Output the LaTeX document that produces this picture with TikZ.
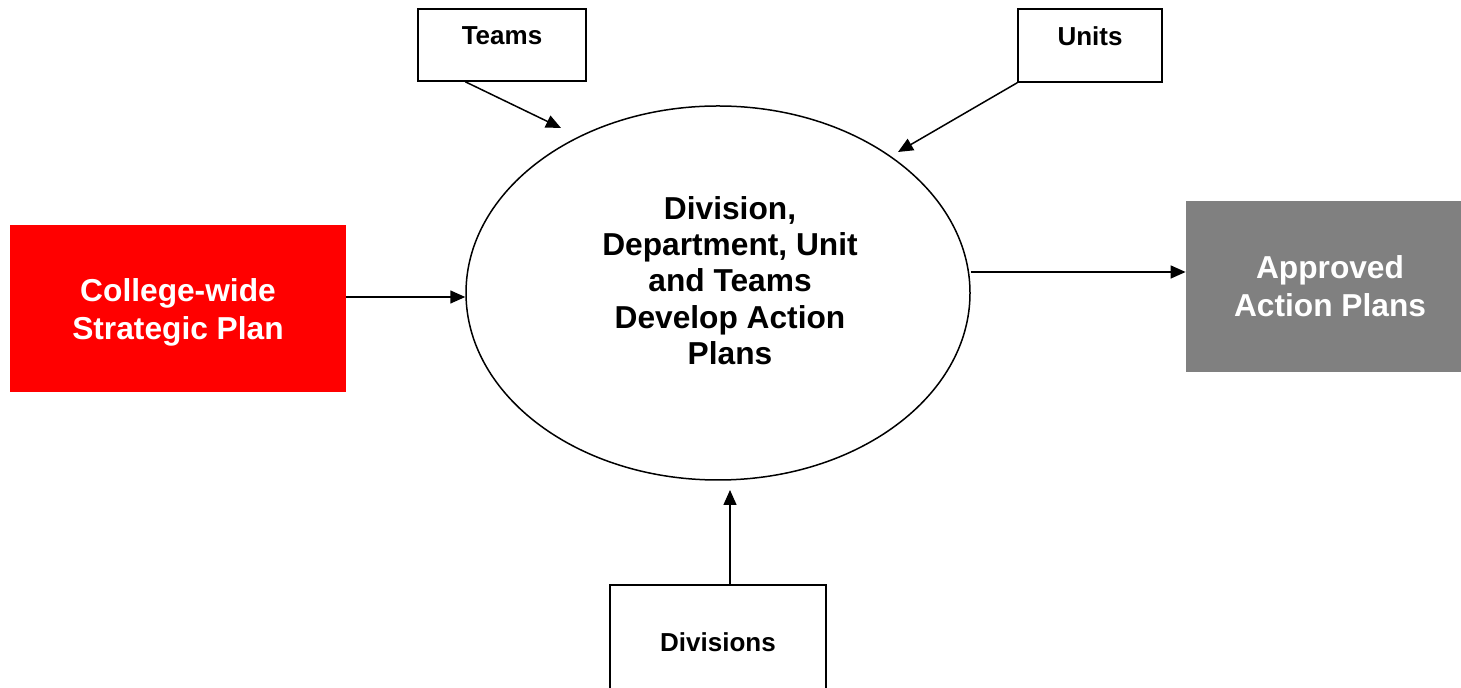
\documentclass[tikz,border=0pt]{standalone}
\usepackage{fontspec}
\setmainfont{Liberation Sans}
\usetikzlibrary{shapes.geometric,arrows.meta}
\begin{document}
\begin{tikzpicture}[x=0.5pt,y=-0.5pt,
  box/.style={draw, line width=0.75pt, font=\fontsize{13}{15}\selectfont\bfseries, text height=9pt, text depth=9pt, inner sep=0pt},
  arr/.style={line width=0.75pt, -{Triangle[length=7.5pt,width=6.5pt]}},
  bigtext/.style={font=\fontsize{15.85}{19}\selectfont\bfseries, text=white, align=center, inner sep=0pt}]
\useasboundingbox (0,0) rectangle (1461,688);
% boxes
\node[box, minimum width=84pt, minimum height=36pt] (teams) at (502,45) {Teams};
\node[box, minimum width=72pt, minimum height=36.5pt] (units) at (1090,45.5) {Units};
\node[box, minimum width=108pt, minimum height=57.5pt, text height=9.5pt, text depth=0pt] (div) at (718,642.5) {Divisions};
\node[fill=red, minimum width=168pt, minimum height=83.5pt, inner sep=0pt,
  label={[bigtext, yshift=-2pt]center:{College-wide\\Strategic Plan}}] (plan) at (178,308.5) {};
\node[bigtext, fill=gray, minimum width=144pt, minimum height=85.5pt] (approved) at (1330,286.5) {Approved\\Action Plans};
% process ellipse
\node[ellipse, draw, line width=0.75pt, minimum width=252pt, minimum height=187pt, inner sep=0pt,
  label={[font=\fontsize{15.85}{18.2}\selectfont\bfseries, align=center, xshift=6pt, yshift=6.25pt]center:{Division,\\Department, Unit\\and Teams\\Develop Action\\Plans}}] (proc) at (718,293) {};
% arrow ends
\coordinate (tipT) at (561,128);
\coordinate (tipU) at (898,152);
\coordinate (tipD) at (730,490);
\coordinate (g1) at ([yshift=7.25pt]approved.west);
% connectors
\draw[arr] ([xshift=24pt]teams.south west) -- (tipT);
\draw[arr] (units.south west) -- (tipU);
\draw[arr] ([yshift=5.75pt]plan.east) coordinate (p1) -- (p1 -| proc.west);
\draw[arr] (g1 -| proc.east) -- (g1);
\draw[arr] ([xshift=6pt]div.north) -- (tipD);
\end{tikzpicture}
\end{document}
